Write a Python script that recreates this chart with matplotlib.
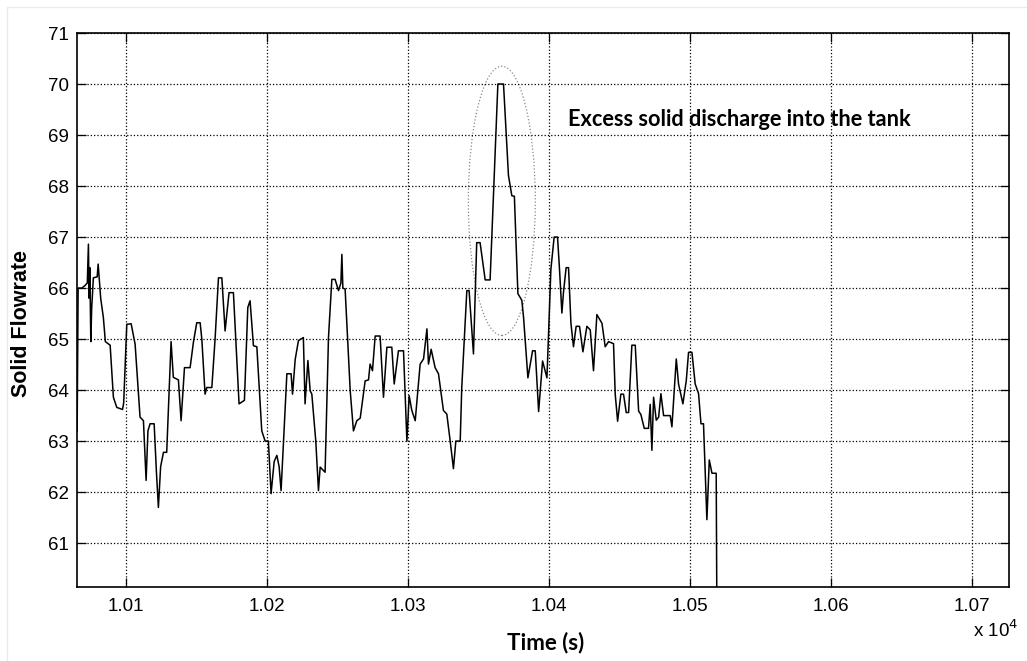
import numpy as np
import matplotlib.pyplot as plt
from matplotlib.patches import Ellipse, Rectangle

# solid flowrate trace (time in s)
time_s = [10065.3, 10066.0, 10068.6, 10070.9, 10072.5, 10073.3, 10073.8, 10074.3, 10075.0, 10075.6,
          10076.8, 10079.5, 10080.2, 10080.9, 10082.0, 10083.9, 10085.3, 10088.7, 10091.0, 10093.4,
          10097.5, 10098.3, 10100.5, 10103.6, 10106.4, 10109.9, 10112.3, 10114.2, 10115.5, 10117.0,
          10119.9, 10121.5, 10122.9, 10124.5, 10126.5, 10128.8, 10131.9, 10133.5, 10137.1, 10139.0,
          10141.4, 10145.4, 10147.7, 10150.1, 10152.5, 10153.7, 10156.0, 10157.2, 10160.8, 10163.1,
          10165.5, 10167.9, 10170.2, 10173.0, 10176.1, 10180.1, 10183.9, 10186.3, 10187.9, 10190.3,
          10192.7, 10196.2, 10198.6, 10200.9, 10202.8, 10205.0, 10206.9, 10208.5, 10209.9, 10214.0,
          10217.0, 10218.0, 10219.9, 10222.2, 10225.7, 10226.9, 10228.9, 10230.5, 10231.7, 10234.5,
          10236.4, 10237.6, 10241.1, 10243.5, 10245.9, 10248.2, 10250.6, 10252.3, 10253.0, 10253.7,
          10255.3, 10258.9, 10261.2, 10263.6, 10266.0, 10269.5, 10271.9, 10273.0, 10274.7, 10276.6,
          10280.1, 10282.5, 10284.9, 10288.4, 10290.1, 10293.1, 10296.7, 10299.1, 10300.7, 10302.6,
          10305.0, 10308.5, 10310.9, 10313.3, 10314.4, 10316.3, 10319.1, 10321.5, 10325.0, 10327.4,
          10329.8, 10332.1, 10333.8, 10336.9, 10338.0, 10341.6, 10343.2, 10346.3, 10348.6, 10351.0,
          10354.6, 10358.1, 10363.6, 10367.6, 10371.1, 10373.5, 10375.3, 10377.8, 10380.6, 10381.8,
          10384.9, 10388.2, 10390.1, 10392.5, 10395.3, 10398.4, 10401.2, 10403.5, 10405.9, 10407.3,
          10409.0, 10410.1, 10412.0, 10413.7, 10415.4, 10417.2, 10419.1, 10421.5, 10423.9, 10426.7,
          10429.1, 10431.4, 10433.8, 10437.4, 10439.7, 10442.1, 10445.6, 10446.8, 10448.5, 10450.8,
          10452.7, 10454.6, 10456.3, 10458.6, 10461.0, 10463.4, 10465.0, 10467.4, 10470.4, 10471.6,
          10472.8, 10474.0, 10475.9, 10477.6, 10479.2, 10481.1, 10485.8, 10487.0, 10490.1, 10491.7,
          10494.8, 10497.2, 10498.8, 10501.2, 10503.5, 10505.9, 10507.6, 10509.4, 10511.8, 10513.5,
          10515.4, 10518.4, 10518.9]
flowrate = [63.2, 66.0, 66.0, 66.05, 66.1, 66.86, 65.8, 66.4, 64.95, 65.6,
            66.2, 66.22, 66.47, 66.2, 65.8, 65.42, 64.95, 64.88, 63.86, 63.66,
            63.62, 63.75, 65.29, 65.3, 64.9, 63.47, 63.4, 62.23, 63.2, 63.34,
            63.34, 62.4, 61.7, 62.5, 62.78, 62.78, 64.95, 64.25, 64.2, 63.4,
            64.44, 64.44, 64.93, 65.32, 65.32, 65.0, 63.92, 64.05, 64.05, 65.0,
            66.2, 66.2, 65.16, 65.91, 65.91, 63.73, 63.8, 65.62, 65.75, 64.87,
            64.85, 63.2, 63.0, 63.0, 61.97, 62.6, 62.72, 62.5, 62.03, 64.32,
            64.32, 63.92, 64.6, 64.97, 65.03, 63.73, 64.58, 63.99, 63.92, 63.0,
            62.03, 62.49, 62.39, 65.03, 66.17, 66.17, 65.95, 66.1, 66.66, 66.0,
            65.98, 63.99, 63.2, 63.4, 63.45, 64.18, 64.2, 64.51, 64.38, 65.06,
            65.06, 63.86, 64.84, 64.84, 64.12, 64.77, 64.77, 63.0, 63.89, 63.6,
            63.4, 64.51, 64.61, 65.2, 64.51, 64.8, 64.44, 64.32, 63.6, 63.53,
            63.0, 62.46, 63.0, 63.0, 64.05, 65.95, 65.95, 64.71, 66.89, 66.89,
            66.16, 66.16, 70.0, 70.0, 68.21, 67.81, 67.8, 65.89, 65.76, 65.43,
            64.24, 64.77, 64.77, 63.58, 64.57, 64.24, 66.37, 67.0, 67.0, 66.37,
            65.51, 65.91, 66.4, 66.4, 65.31, 64.85, 65.25, 65.25, 64.75, 65.25,
            65.18, 64.38, 65.48, 65.31, 64.85, 64.95, 64.91, 63.92, 63.39, 63.92,
            63.92, 63.56, 63.56, 64.88, 64.88, 63.59, 63.52, 63.25, 63.25, 63.72,
            62.82, 63.86, 63.41, 63.47, 63.93, 63.5, 63.5, 63.28, 64.61, 64.12,
            63.73, 64.19, 64.74, 64.74, 64.12, 63.93, 63.34, 63.34, 61.46, 62.63,
            62.37, 62.37, 59.5]

x_ticks = [10100, 10200, 10300, 10400, 10500, 10600, 10700]
x_tick_labels = ['1.01', '1.02', '1.03', '1.04', '1.05', '1.06', '1.07']
y_ticks = [61, 62, 63, 64, 65, 66, 67, 68, 69, 70, 71]

sans = ['Liberation Sans', 'DejaVu Sans']

fig = plt.figure(figsize=(10.27, 6.61), dpi=100)
ax = fig.add_axes([77/1027, 1 - 587/661, 932/1027, 554/661])

ax.plot(time_s, flowrate, color='black', linewidth=1.1)

ax.set_xlim(10065.2, 10726)
ax.set_ylim(60.14, 71)
ax.set_xticks(x_ticks)
ax.set_xticklabels(x_tick_labels)
ax.set_yticks(y_ticks)
for lab in ax.get_xticklabels() + ax.get_yticklabels():
    lab.set_family(sans)
    lab.set_fontsize(13.5)

ax.tick_params(direction='in', top=True, right=True, length=6.5, width=0.9, color='black')
ax.tick_params(axis='x', pad=8)
ax.tick_params(axis='y', pad=6)
ax.grid(color='black', linestyle=':', linewidth=0.9)
for s in ax.spines.values():
    s.set_linewidth(1.2)

ax.set_ylabel('Solid Flowrate', family='Liberation Sans', fontweight='bold', fontsize=15.5)
ax.yaxis.set_label_coords(-0.048, 0.475)
ax.set_xlabel('Time (s)', family='Lato', fontweight='bold', fontsize=16)
ax.xaxis.set_label_coords(0.503, -0.08)

ax.text(1.01, -0.058, r'x 10$^{4}$', transform=ax.transAxes, ha='right', va='top',
        family=sans, fontsize=13.5)

ax.add_patch(Ellipse((10366.4, 67.71), 47.5, 5.28, fill=False, edgecolor='#888888',
                     linestyle=':', linewidth=0.9))
ax.text(10413.5, 69.3, 'Excess solid discharge into the tank', family='Lato',
        fontweight='bold', fontsize=15.7, va='center', ha='left')

# faint frame of the source picture
fig.patches.append(Rectangle((7/1027, -0.1), 1.2, 1 - 7/661 + 0.1, transform=fig.transFigure,
                             fill=False, edgecolor='#ebebeb', linewidth=1))

fig.savefig('out.png', dpi=100)
